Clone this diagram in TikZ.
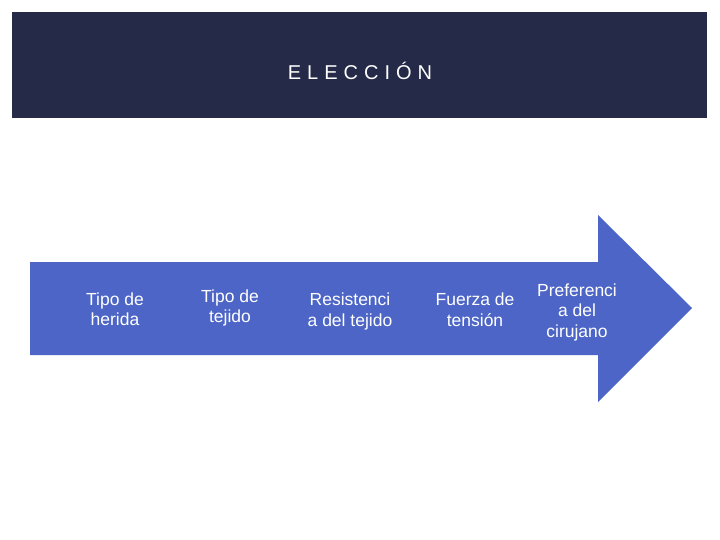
\documentclass[tikz,border=0pt]{standalone}
\usepackage{fontspec}
\setmainfont{Liberation Sans}
\definecolor{navy}{HTML}{242A47}
\definecolor{arrowblue}{HTML}{4C65C6}
\tikzset{
  lbl/.style={text=white, align=center, inner sep=0pt, font=\fontsize{17.5}{20.5}\selectfont},
  ttl/.style={text=white, inner sep=0pt, anchor=base, font=\fontsize{20}{22}\selectfont\addfontfeature{LetterSpace=30}}
}
\begin{document}
\begin{tikzpicture}[x=1pt,y=-1pt]
\useasboundingbox (0,0) rectangle (720,540);
\fill[white] (0,0) rectangle (720,540);
\fill[navy] (12,12) rectangle (707,118);
\node[ttl] (title) at (360,79.5) {ELECCIÓN};
\fill[arrowblue] (30,262) -- (598,262) -- (598,215) -- (692,308) -- (598,402) -- (598,355) -- (30,355) -- cycle;
\node[lbl] (a) at (115,309) {Tipo de\\herida};
\node[lbl] (b) at (230,308) {Tipo de\\tejido};
\node[lbl] (c) at (350,311.5) {Resistenci\\a del tejido};
\node[lbl] (d) at (475,309.5) {Fuerza de\\tensión};
\node[lbl] (e) at (577,312) {Preferenci\\a del\\cirujano};
\end{tikzpicture}
\end{document}
